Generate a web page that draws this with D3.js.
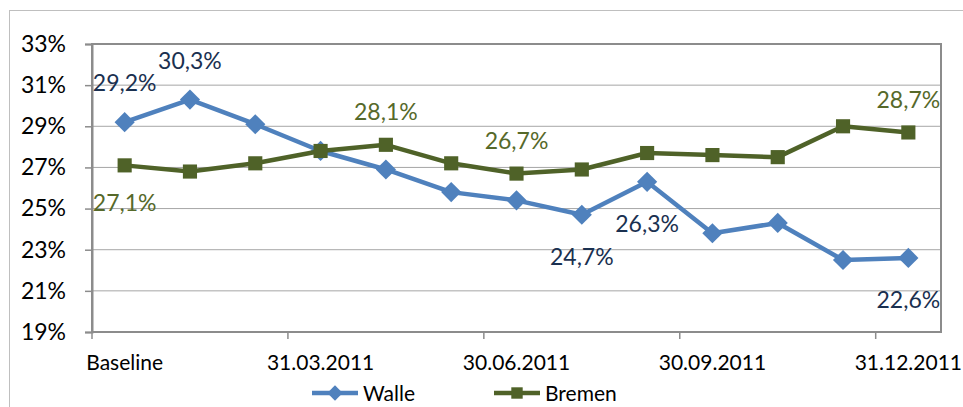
<!DOCTYPE html>
<html><head><meta charset="utf-8">
<script src="https://cdn.jsdelivr.net/npm/d3@7"></script>
<style>
html,body{margin:0;padding:0;background:#fff;}
svg text{font-family:Lato,"Open Sans",sans-serif;}
</style></head>
<body>
<svg id="chart" width="963" height="407"></svg>
<script>
const categories = ["Baseline","31.01.2011","28.02.2011","31.03.2011","30.04.2011","31.05.2011","30.06.2011","31.07.2011","31.08.2011","30.09.2011","31.10.2011","30.11.2011","31.12.2011"];
const shownCategories = ["Baseline","31.03.2011","30.06.2011","30.09.2011","31.12.2011"];
const walle = [29.2, 30.3, 29.1, 27.8, 26.9, 25.8, 25.4, 24.7, 26.3, 23.8, 24.3, 22.5, 22.6];
const bremen = [27.1, 26.8, 27.2, 27.8, 28.1, 27.2, 26.7, 26.9, 27.7, 27.6, 27.5, 29.0, 28.7];
const yTicks = [19, 21, 23, 25, 27, 29, 31, 33];
const walleLabeled = [0, 1, 7, 8, 12];
const walleLabelSide = ["above", "above", "below", "below", "below"];
const bremenLabeled = [0, 4, 6, 12];
const bremenLabelSide = ["below", "above", "above", "above"];
const seriesNames = ["Walle", "Bremen"];

const svg = d3.select("#chart");
const L = 92, R = 941, T = 44, B = 332;
const x = d3.scaleBand().domain(categories).range([L, R]).padding(0);
const cx = c => x(c) + x.bandwidth() / 2;
const y = d3.scaleLinear().domain([19, 33]).range([B, T]);
const fmt = v => v.toFixed(1).replace(".", ",") + "%";

// outer frame
svg.append("rect").attr("x", 9.5).attr("y", 10.5).attr("width", 960).attr("height", 410)
  .attr("fill", "#fff").attr("stroke", "#bfbfbf").attr("stroke-width", 1);

// gridlines
svg.append("g").selectAll("line").data(yTicks.slice(1, -1)).join("line")
  .attr("x1", L).attr("x2", R).attr("y1", d => y(d)).attr("y2", d => y(d))
  .attr("stroke", "#a6a6a6").attr("stroke-width", 1);

// plot border
svg.append("rect").attr("x", L).attr("y", T).attr("width", R - L).attr("height", B - T)
  .attr("fill", "none").attr("stroke", "#8c8c8c").attr("stroke-width", 2);

// y axis
const yAxis = svg.append("g").attr("transform", `translate(${L},0)`)
  .call(d3.axisLeft(y).tickValues(yTicks).tickFormat(d => d + "%").tickSize(7).tickPadding(19));
yAxis.select(".domain").attr("stroke", "#8c8c8c").attr("stroke-width", 2);
yAxis.selectAll(".tick line").attr("stroke", "#8c8c8c").attr("stroke-width", 1.5);
yAxis.selectAll("text").attr("font-size", 23).attr("fill", "#000").attr("font-family", "Lato");

// x axis labels
const xAxis = svg.append("g").attr("transform", `translate(0,${B})`)
  .call(d3.axisBottom(x).tickValues(shownCategories).tickSize(0).tickPadding(23));
xAxis.select(".domain").remove();
xAxis.selectAll("text").attr("font-size", 21).attr("fill", "#000").attr("font-family", "Lato");
// x tick marks at category boundaries
svg.append("g").selectAll("line").data(shownCategories).join("line")
  .attr("x1", d => x(d)).attr("x2", d => x(d)).attr("y1", B).attr("y2", B + 7)
  .attr("stroke", "#8c8c8c").attr("stroke-width", 1.5);

const diamond = d3.symbol().type(d3.symbolDiamond2).size(260);
const square = d3.symbol().type(d3.symbolSquare).size(200);

function drawSeries(vals, color, sym) {
  const line = d3.line().x((d, i) => cx(categories[i])).y(d => y(d));
  svg.append("path").datum(vals).attr("d", line).attr("fill", "none")
    .attr("stroke", color).attr("stroke-width", 4.5).attr("stroke-linejoin", "round");
  svg.append("g").selectAll("path").data(vals).join("path")
    .attr("d", sym).attr("fill", color)
    .attr("transform", (d, i) => `translate(${cx(categories[i])},${y(d)})`);
}
drawSeries(walle, "#4f81bd", diamond);
drawSeries(bremen, "#4f6228", square);

function drawLabels(vals, idxs, sides, color, up, down) {
  svg.append("g").selectAll("text").data(idxs).join("text")
    .attr("x", i => cx(categories[i]))
    .attr("y", (i, k) => y(vals[i]) + (sides[k] === "above" ? -up : down))
    .attr("dy", "0.36em").attr("text-anchor", "middle")
    .attr("font-size", 23).attr("fill", color)
    .text(i => fmt(vals[i]));
}
drawLabels(walle, walleLabeled, walleLabelSide, "#1a3050", 39, 42);
drawLabels(bremen, bremenLabeled, bremenLabelSide, "#56692a", 33, 37);

// legend
const leg = svg.append("g");
const legItems = [
  {name: seriesNames[0], color: "#4f81bd", sym: d3.symbol().type(d3.symbolDiamond2).size(150), x0: 312},
  {name: seriesNames[1], color: "#4f6228", sym: d3.symbol().type(d3.symbolSquare).size(130), x0: 494}
];
legItems.forEach(it => {
  const ly = 393;
  leg.append("line").attr("x1", it.x0).attr("x2", it.x0 + 46).attr("y1", ly).attr("y2", ly)
    .attr("stroke", it.color).attr("stroke-width", 4.5);
  leg.append("path").attr("d", it.sym).attr("fill", it.color)
    .attr("transform", `translate(${it.x0 + 23},${ly})`);
  leg.append("text").attr("x", it.x0 + 51).attr("y", ly).attr("dy", "0.36em")
    .attr("font-size", 21).attr("fill", "#000").text(it.name);
});
</script>
</body></html>
